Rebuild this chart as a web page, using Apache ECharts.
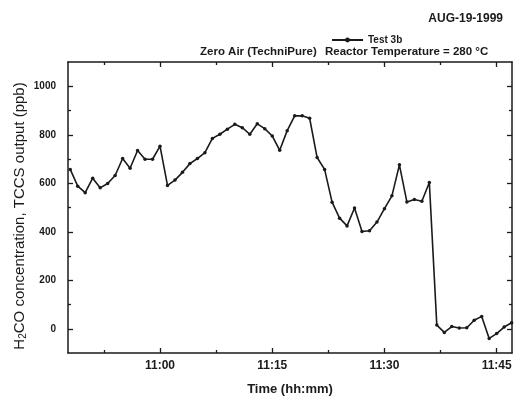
<!DOCTYPE html>
<html>
<head>
<meta charset="utf-8">
<script src="https://cdn.jsdelivr.net/npm/echarts@6/dist/echarts.min.js"></script>
<style>
html,body{margin:0;padding:0;background:#fff;}
#chart{width:515px;height:401px;}
</style>
</head>
<body>
<div id="chart"></div>
<script>
// ---- data ----
const times = ['10:48','10:49','10:50','10:51','10:52','10:53','10:54','10:55','10:56','10:57',
  '10:58','10:59','11:00','11:01','11:02','11:03','11:04','11:05','11:06','11:07',
  '11:08','11:09','11:10','11:11','11:12','11:13','11:14','11:15','11:16','11:17',
  '11:18','11:19','11:20','11:21','11:22','11:23','11:24','11:25','11:26','11:27',
  '11:28','11:29','11:30','11:31','11:32','11:33','11:34','11:35','11:36','11:37',
  '11:38','11:39','11:40','11:41','11:42','11:43','11:44','11:45','11:46','11:47'];
const test3b = [657,588,561,621,581,599,632,702,662,735,
  699,699,753,591,613,645,681,702,726,785,
  802,823,843,829,802,845,825,795,736,817,
  878,878,868,706,657,522,456,424,498,401,
  404,440,495,548,676,523,533,526,603,15,
  -15,9,3,4,35,51,-40,-20,7,25];
const xTickLabels = ['11:00','11:15','11:30','11:45'];
const xMinorTicks = ['10:52:30','11:07:30','11:22:30','11:37:30'];
const yTickLabels = [0,200,400,600,800,1000];
const yMinorTicks = [100,300,500,700,900];
const seriesName = 'Test 3b';
const dateText = 'AUG-19-1999';
const gasText = 'Zero Air (TechniPure)';
const tempText = 'Reactor Temperature = 280 °C';

// ---- helpers ----
function toMin(s){const p=s.split(':').map(Number);return p[0]*60+p[1]+(p[2]||0)/60;}
function fmt(v){const h=Math.floor(v/60+1e-9);const m=Math.round(v-h*60);return h+':'+(m<10?'0':'')+m;}

const FONT = 'Liberation Sans, Arial, sans-serif';
const INK = '#1a1a1a';
const xMin = toMin('10:47:42'), xMax = toMin('11:47:03');
const yMin = -100, yMax = 1100;
const majX = xTickLabels.map(toMin), minX = xMinorTicks.map(toMin);

function xAx(pos, ticks, len, showLine, labels){
  return {type:'value', position:pos, min:xMin, max:xMax,
    axisLine:{show:showLine,onZero:false,lineStyle:{color:INK,width:1.5}},
    axisTick:{show:true,inside:true,length:len,customValues:ticks,lineStyle:{color:INK,width:1.3}},
    axisLabel:labels?{show:true,customValues:majX,formatter:fmt,margin:7,color:INK,fontFamily:FONT,fontSize:12,fontWeight:'bold'}:{show:false},
    splitLine:{show:false}};
}
function yAx(pos, ticks, len, showLine, labels){
  return {type:'value', position:pos, min:yMin, max:yMax,
    axisLine:{show:showLine,onZero:false,lineStyle:{color:INK,width:1.5}},
    axisTick:{show:true,inside:true,length:len,customValues:ticks,lineStyle:{color:INK,width:1.3}},
    axisLabel:labels?{show:true,customValues:yTickLabels,formatter:v=>String(v),margin:12,color:INK,fontFamily:FONT,fontSize:10,fontWeight:'bold'}:{show:false},
    splitLine:{show:false}};
}

const xA0 = xAx('bottom', majX, 5, true, true);
xA0.name = 'Time (hh:mm)'; xA0.nameLocation='middle'; xA0.nameGap=30;
xA0.nameTextStyle = {color:INK,fontFamily:FONT,fontSize:13,fontWeight:'bold'};

const chart = echarts.init(document.getElementById('chart'));
chart.setOption({
  animation:false,
  backgroundColor:'#ffffff',
  grid:{left:68, top:62, width:444, height:296, containLabel:false},
  xAxis:[xA0, xAx('bottom',minX,3,false,false), xAx('top',majX,5,true,false), xAx('top',minX,3,false,false)],
  yAxis:[yAx('left',yTickLabels,5,true,true), yAx('left',yMinorTicks,3,false,false),
         yAx('right',yTickLabels,5,true,false), yAx('right',yMinorTicks,3,false,false)],
  legend:{data:[seriesName], left:331, top:35, itemWidth:31, itemHeight:6, padding:0,
    textStyle:{color:INK,fontFamily:FONT,fontSize:10,fontWeight:'bold'}},
  series:[{name:seriesName, type:'line', xAxisIndex:0, yAxisIndex:0,
    data:times.map((t,i)=>[toMin(t), test3b[i]]),
    symbol:'circle', symbolSize:3.5, showSymbol:true,
    lineStyle:{color:INK,width:1.6}, itemStyle:{color:INK}, clip:true}],
  graphic:[
    {type:'text', right:12, top:13, style:{text:dateText, fill:INK, font:'bold 12px '+FONT}},
    {type:'text', left:200, top:46, style:{text:gasText, fill:INK, font:'bold 11.5px '+FONT}},
    {type:'text', left:325, top:46, style:{text:tempText, fill:INK, font:'bold 11.5px '+FONT}},
    {type:'text', x:20, y:216, rotation:Math.PI/2,
      style:{text:'{n|H}{s|2}{n|CO concentration, TCCS output (ppb)}', align:'center', verticalAlign:'middle',
        rich:{n:{fontSize:15,fontFamily:FONT,fill:INK}, s:{fontSize:10,fontFamily:FONT,fill:INK,padding:[7,0,0,0]}}}}
  ]
});
</script>
</body>
</html>
